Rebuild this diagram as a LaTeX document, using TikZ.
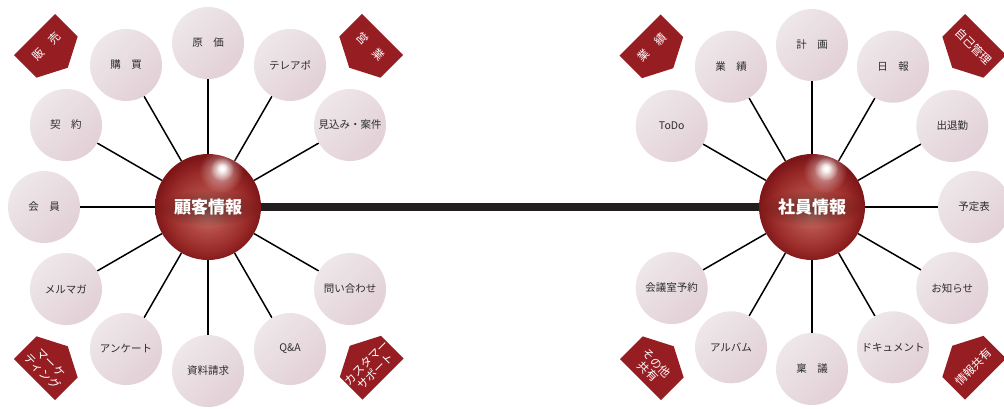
\documentclass[tikz,border=0pt]{standalone}
\usepackage{fontspec}
\setmainfont{Noto Sans CJK JP}
\usetikzlibrary{calc,fadings}
\definecolor{tagred}{RGB}{150,30,35}
\definecolor{satA}{RGB}{238,231,234}
\definecolor{satB}{RGB}{226,208,215}
\definecolor{hubA}{RGB}{198,116,106}
\definecolor{hubB}{RGB}{176,72,66}
\definecolor{hubC}{RGB}{152,42,40}
\definecolor{hubD}{RGB}{126,22,24}
\definecolor{labelgray}{RGB}{45,45,45}
\definecolor{barcol}{RGB}{35,30,30}
\pgfdeclareradialshading{hubbody}{\pgfpoint{0bp}{-3bp}}{color(0bp)=(hubA); color(10bp)=(hubB); color(19bp)=(hubC); color(25bp)=(hubD); color(50bp)=(hubD)}
\tikzfading[name=glow, inner color=transparent!0, outer color=transparent!100]
\pgfdeclarelayer{bg}
\pgfsetlayers{bg,main}
\tikzset{
  sat/.style={circle, minimum size=72, inner sep=0, top color=satA, bottom color=satB, shading angle=45, font=\fontsize{10.5}{12}\selectfont, text=labelgray},
  hub/.style={circle, minimum size=106, inner sep=0, shade, shading=hubbody},
  hubtext/.style={text=white, font=\fontsize{17}{20}\selectfont\bfseries},
  spoke/.style={line width=1.5, black},
  bar/.style={line width=8, barcol},
  tagtext/.style={text=white, font=\fontsize{11.5}{12.5}\selectfont, align=center, inner sep=0},
}
\newcommand\tagshape[6]{%
  \begin{scope}[shift={(#1,#2)}, rotate=#3]
    \fill[tagred] (0,-29) -- (32,-29) -- (47,0) -- (32,29) -- (0,29) -- cycle;
    \node[tagtext, rotate=#4] (#5) at (17,0) {#6};
  \end{scope}}
\begin{document}
\begin{tikzpicture}[x=1pt, y=-1pt]
\useasboundingbox (0,0) rectangle (1004,408);
\clip (0,0) rectangle (1004,408);

% hubs
\node[hub] (hubL) at (208,207) {};
\node[hub] (hubR) at (812,207) {};
\foreach \h in {hubL,hubR}{
  \fill[white, path fading=glow, opacity=0.6] ($(\h)+(13,-36)$) circle (22);
  \fill[white, path fading=glow] ($(\h)+(14,-38)$) circle (12);
  \fill[white, path fading=glow] ($(\h)+(14,-39)$) circle (6);
  \fill[black, path fading=glow, opacity=0.45] ($(\h)+(0,1)$) ellipse (50 and 18);
}
\node[hubtext] (hubLt) at (hubL) {顧客情報};
\node[hubtext] (hubRt) at (hubR) {社員情報};

% left satellites
\foreach \a/\t [count=\i] in {90/原　価, 60/テレアポ, 30/見込み・案件, -30/問い合わせ, -60/Q\&A, -90/資料請求, -120/アンケート, -150/メルマガ, 180/会　員, 150/契　約, 120/購　買}{
  \node[sat] (L\i) at ([shift={({164*cos(\a)},{-164*sin(\a)})}]hubL) {\t};
  \begin{pgfonlayer}{bg}\draw[spoke] (hubL) -- (L\i);\end{pgfonlayer}
}
% right satellites
\foreach \a/\t [count=\i] in {90/計　画, 60/日　報, 30/出退勤, 0/予定表, -30/お知らせ, -60/ドキュメント, -90/稟　議, -120/アルバム, -150/会議室予約, 150/ToDo, 120/業　績}{
  \node[sat] (R\i) at ([shift={({162*cos(\a)},{-162*sin(\a)})}]hubR) {\t};
  \begin{pgfonlayer}{bg}\draw[spoke] (hubR) -- (R\i);\end{pgfonlayer}
}
\begin{pgfonlayer}{bg}
\draw[bar] (hubL) -- (hubR);
\end{pgfonlayer}

% tags
\tagshape{34.5}{34.5}{-45}{45}{tagL1}{販　売}
\tagshape{382.5}{34.5}{-135}{-45}{tagL2}{営　業}
\tagshape{34.5}{379.5}{45}{-45}{tagL3}{マーケ\\ティング}
\tagshape{383}{379}{135}{45}{tagL4}{カスタマー\\サポート}
\tagshape{640}{35}{-45}{45}{tagR1}{業　績}
\tagshape{985.5}{34.5}{-135}{-45}{tagR2}{自己管理}
\tagshape{640.5}{379.5}{45}{-45}{tagR3}{その他\\共有}
\tagshape{985.5}{379}{135}{45}{tagR4}{情報共有}
\end{tikzpicture}
\end{document}
